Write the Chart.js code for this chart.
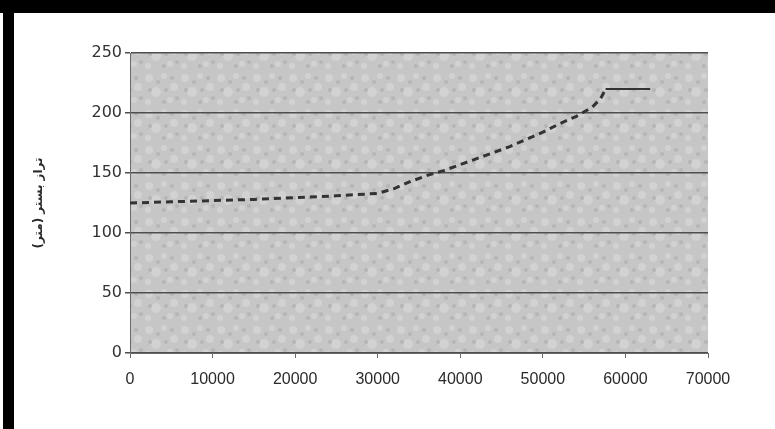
<!DOCTYPE html>
<html>
<head>
<meta charset="utf-8">
<script src="https://cdn.jsdelivr.net/npm/chart.js@4.4.1/dist/chart.umd.min.js"></script>
<style>
  html, body { margin: 0; padding: 0; background: #fff; }
  #wrap { width: 775px; height: 429px; }
</style>
</head>
<body>
<div id="wrap"><canvas id="grafico" width="775" height="429"></canvas></div>
<script>
// distancia (m) y cota del lecho
const distancias = [0, 5000, 10000, 15000, 20000, 25000, 30000, 32000, 34000, 36000, 38000, 40000,
    42000, 44000, 46000, 48000, 50000, 52000, 54000, 56000, 57000, 57600, 63000];
const cotas = [125, 126, 127, 128, 129.5, 131, 133, 137, 143, 148, 152, 157,
    162, 167, 172, 178, 184, 191, 197, 205, 212, 220, 220];
const ticksX = [0, 10000, 20000, 30000, 40000, 50000, 60000, 70000];
const ticksY = [0, 50, 100, 150, 200, 250];
const tituloY = "تراز بستر (متر)";

const puntos = distancias.map((x, i) => ({ x: x, y: cotas[i] }));
const ultimo = puntos.length - 2; // el tramo final es continuo

// textura moteada del fondo (patron fijo)
function crearTextura() {
    const t = document.createElement("canvas");
    t.width = 36; t.height = 36;
    const c = t.getContext("2d");
    c.fillStyle = "#c6c6c6";
    c.fillRect(0, 0, 36, 36);
    const claros = [[5, 6, 4], [20, 4, 3], [30, 15, 4], [12, 20, 5], [26, 28, 3], [4, 30, 3]];
    const oscuros = [[14, 10, 2], [28, 6, 2], [6, 18, 2], [20, 30, 2], [33, 26, 2], [22, 18, 2]];
    c.fillStyle = "#d2d2d2";
    claros.forEach(([x, y, r]) => { c.beginPath(); c.arc(x, y, r, 0, Math.PI * 2); c.fill(); });
    c.fillStyle = "#b6b6b6";
    oscuros.forEach(([x, y, r]) => { c.beginPath(); c.arc(x, y, r, 0, Math.PI * 2); c.fill(); });
    return t;
}
const textura = crearTextura();

// marco negro y fondo gris del area del grafico
const fondoPlugin = {
    id: "fondo",
    beforeDraw(chart) {
        const c = chart.ctx;
        const a = chart.chartArea;
        c.save();
        c.fillStyle = "#ffffff";
        c.fillRect(0, 0, chart.width, chart.height);
        c.fillStyle = c.createPattern(textura, "repeat");
        c.fillRect(a.left, a.top, a.right - a.left, a.bottom - a.top);
        c.fillStyle = "#000000";
        c.fillRect(0, 0, chart.width, 13);
        c.fillRect(3, 0, 11, chart.height);
        c.restore();
    }
};

new Chart(document.getElementById("grafico").getContext("2d"), {
    type: "line",
    data: {
        datasets: [{
            data: puntos,
            borderColor: "#333333",
            borderWidth: 3,
            pointRadius: 0,
            tension: 0,
            fill: false,
            segment: {
                borderDash: (ctx) => ctx.p0DataIndex >= ultimo ? [] : [7, 5],
                borderWidth: (ctx) => ctx.p0DataIndex >= ultimo ? 2 : 3,
            },
        }],
    },
    options: {
        responsive: false,
        animation: false,
        layout: { padding: { top: 53, right: 67, bottom: 0, left: 0 } },
        plugins: {
            legend: { display: false },
            tooltip: { enabled: false },
        },
        scales: {
            x: {
                type: "linear",
                min: 0,
                max: 70000,
                afterBuildTicks: (scale) => { scale.ticks = ticksX.map(v => ({ value: v })); },
                afterFit: (scale) => { scale.height = 76; },
                grid: { drawOnChartArea: false, drawTicks: true, tickLength: 5, color: "#6a6a6a" },
                border: { color: "#6a6a6a", width: 1 },
                ticks: {
                    color: "#2a2a2a",
                    font: { family: "'Liberation Sans', Arial, sans-serif", size: 16 },
                    padding: 12,
                    maxRotation: 0,
                    callback: (v) => String(v),
                },
            },
            y: {
                min: 0,
                max: 250,
                afterBuildTicks: (scale) => { scale.ticks = ticksY.map(v => ({ value: v })); },
                afterFit: (scale) => { scale.width = 130; },
                grid: { color: "#4e4e4e", lineWidth: 1.5, drawTicks: true, tickLength: 5 },
                border: { color: "#6a6a6a", width: 1 },
                ticks: {
                    color: "#333333",
                    font: { family: "'DejaVu Sans', sans-serif", size: 16 },
                    padding: 3,
                },
                title: {
                    display: true,
                    text: tituloY,
                    color: "#2a2a2a",
                    font: { family: "'DejaVu Sans', 'Noto Sans', sans-serif", size: 12, weight: "bold" },
                    padding: { top: 32, bottom: 0 },
                },
            },
        },
    },
    plugins: [fondoPlugin],
});
</script>
</body>
</html>
